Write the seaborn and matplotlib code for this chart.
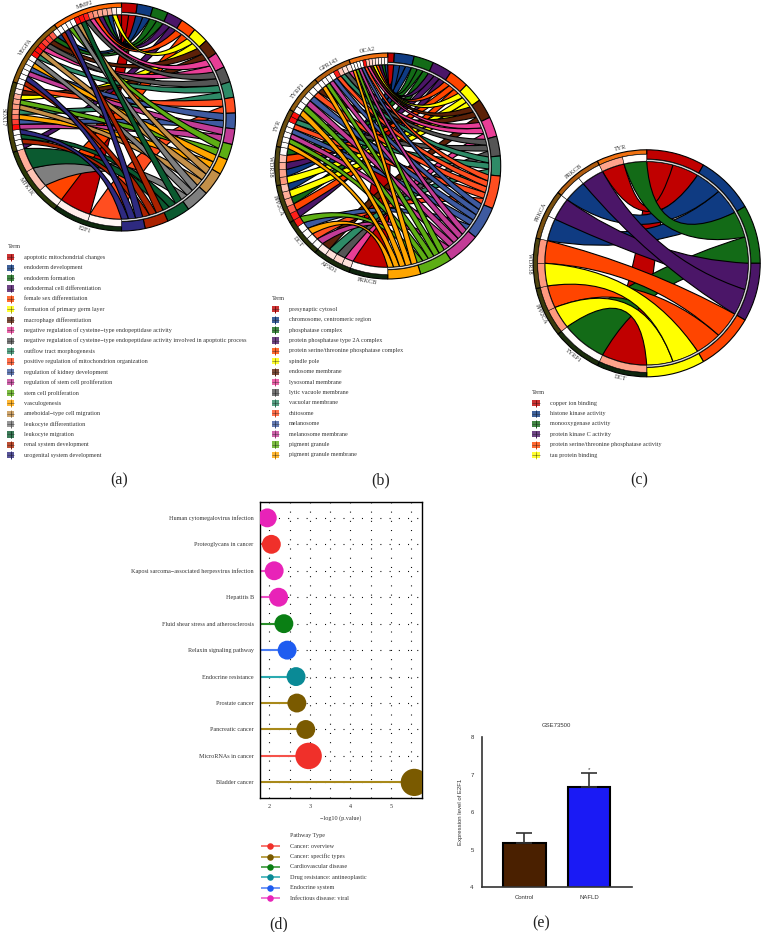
import numpy as np
import pandas as pd
import matplotlib
matplotlib.use("Agg")
import matplotlib.pyplot as plt
import seaborn as sns
from matplotlib.patches import Wedge, PathPatch, Rectangle
from matplotlib.path import Path
from matplotlib.colors import LinearSegmentedColormap

# ---------- data: chord (a) ----------
terms_a = ["apoptotic mitochondrial changes", "endoderm development", "endoderm formation",
           "endodermal cell differentiation", "female sex differentiation", "formation of primary germ layer",
           "macrophage differentiation", "negative regulation of cysteine\u2212type endopeptidase activity",
           "negative regulation of cysteine\u2212type endopeptidase activity involved in apoptotic process",
           "outflow tract morphogenesis", "positive regulation of mitochondrion organization",
           "regulation of kidney development", "regulation of stem cell proliferation", "stem cell proliferation",
           "vasculogenesis", "ameboidal\u2212type cell migration", "leukocyte differentiation", "leukocyte migration",
           "renal system development", "urogenital system development"]
colors_a = ["#C00000", "#0F3B82", "#136B17", "#4B1668", "#FF4500", "#FFFF00", "#5C2108", "#E83E96", "#555555",
            "#2E8B67", "#FF4E20", "#3E5AA0", "#C23C96", "#5DAE14", "#FFA500", "#C49049", "#7F7F7F", "#0B5A30",
            "#AA2200", "#2E2A80"]
genes_a = ["E2F1", "MTK1K", "SOX17", "VEGFA", "MMP2"]
gene_cols_a = ["#0E2A0E", "#2B3A08", "#474209", "#8B5A0A", "#FF6600"]
links_a = [[10, 0], [4, 16, 17],
           [3, 18, 17, 19, 12, 11, 14, 9, 15, 13, 5, 6, 10],
           [18, 19, 12, 11, 14, 16, 9, 15, 7, 8, 6, 2, 1],
           [18, 19, 13, 16, 15, 17, 8, 7, 4, 3, 2, 1, 5, 0]]
cells_a = [[0.04, 0.08], [0.05, 0.3, 0.4],
           [1, 1, 1, 1, .95, .8, .6, .5, .5, .45, .4, .1, .02],
           [1, 1, 1, 1, 1, 1, .95, .95, .9, .8, .8, .7, .02],
           [1, 1, 1, 1, .95, .95, .9, .6, .5, .45, .4, .35, .1, .02]]

# ---------- data: chord (b) ----------
terms_b = ["presynaptic cytosol", "chromosome, centromeric region", "phosphatase complex",
           "protein phosphatase type 2A complex", "protein serine/threonine phosphatase complex", "spindle pole",
           "endosome membrane", "lysosomal membrane", "lytic vacuole membrane", "vacuolar membrane", "chitosome",
           "melanosome", "melanosome membrane", "pigment granule", "pigment granule membrane"]
colors_b = colors_a[:10] + ["#FF4E20", "#3E5AA0", "#C23C96", "#5DAE14", "#FFA500"]
genes_b = ["PRKCB", "AP3D1", "DCT", "PPP2CA", "WDR38", "TYR", "TYRP1", "GPR143", "OCA2"]
gene_cols_b = ["#0E260E", "#1A2C0C", "#2A3408", "#3E3D0C", "#4F4510", "#6B4E10", "#8F5B10", "#B86010", "#F07010"]
links_b = [[0], [7, 8, 9, 6], [12, 10, 14, 11, 13], [3, 4, 2, 5, 1], [5, 1, 3, 4, 2],
           [14, 13, 12, 11, 10, 9, 8], [14, 13, 12, 11, 10, 6],
           [14, 13, 12, 11, 10, 9, 8, 7],
           [14, 13, 12, 11, 10, 7, 6, 5, 4, 3, 2, 1]]
cells_b = [[0.02], [.15, .2, .15, .1], [1, 1, 1, 1, .9], [.9, .7, .45, .4, .3], [.5, .45, .4, .3, .02],
           [1, 1, 1, 1, 1, .95, .95], [1, 1, 1, 1, 1, .02],
           [1, 1, 1, 1, .9, .3, .15, .1], [1, 1, 1, 1, .95, .3, .2, .15, .1, .08, .05, .02]]

# ---------- data: chord (c) ----------
terms_c = ["copper ion binding", "histone kinase activity", "monooxygenase activity", "protein kinase C activity",
           "protein serine/threonine phosphatase activity", "tau protein binding"]
colors_c = colors_a[:6]
genes_c = ["DCT", "TYRP1", "PPP2CA", "WDR38", "PRKCA", "PRKCB", "TYR"]
gene_cols_c = ["#0E260E", "#1C2E0C", "#3A3B0C", "#4F4510", "#7A5010", "#B05C10", "#F07010"]
links_c = [[0], [2], [5, 4], [5, 4], [1, 3], [1, 3], [0, 2]]
cells_c = [[.45], [.02], [.5, .5], [.5, .5], [1, 1], [1, 1], [.45, .02]]
term_slots_c = [[0, 6], [5, 4], [6, 1], [4, 5], [3, 2], [3, 2]]

# ---------- data: lollipop (d) ----------
pathways = ["Human cytomegalovirus infection", "Proteoglycans in cancer",
            "Kaposi sarcoma\u2212associated herpesvirus infection", "Hepatitis B",
            "Fluid shear stress and atherosclerosis", "Relaxin signaling pathway", "Endocrine resistance",
            "Prostate cancer", "Pancreatic cancer", "MicroRNAs in cancer", "Bladder cancer"]
log_p = [1.95, 2.05, 2.12, 2.23, 2.36, 2.44, 2.66, 2.68, 2.90, 2.97, 5.58]
gene_count = [9, 9, 9, 9, 9, 9, 9, 9, 9, 13, 13.5]
path_type = ["Infectious disease: viral", "Cancer: overview", "Infectious disease: viral", "Infectious disease: viral",
             "Cardiovascular disease", "Endocrine system", "Drug resistance: antineoplastic",
             "Cancer: specific types", "Cancer: specific types", "Cancer: overview", "Cancer: specific types"]
type_names = ["Cancer: overview", "Cancer: specific types", "Cardiovascular disease",
              "Drug resistance: antineoplastic", "Endocrine system", "Infectious disease: viral"]
type_dots = ["#F0302A", "#7A5A00", "#0A7F14", "#0A8A96", "#1E5CF0", "#E823B8"]
type_lines = ["#F5524A", "#A8891A", "#2A8F2A", "#2AAAB0", "#4A7CF5", "#EE50C8"]

# ---------- data: bars (e) ----------
groups = ["Control", "NAFLD"]
expr = [5.17, 6.67]
expr_err = [0.27, 0.38]
bar_cols = ["#4A2000", "#1A1AF5"]

# ---------- setup ----------
sns.set_theme(style="white")
SERIF = ["Liberation Serif", "DejaVu Serif"]
SANS = ["Liberation Sans", "DejaVu Sans"]
plt.rcParams["font.family"] = SERIF
W, H = 761, 932
TXT = "#333333"
FS = 4.4
fig = plt.figure(figsize=(W / 100, H / 100), dpi=100, facecolor="white")


def px_axes(x0, y0, x1, y1, **kw):
    return fig.add_axes([x0 / W, 1 - y1 / H, (x1 - x0) / W, (y1 - y0) / H], **kw)


cell_cmap = LinearSegmentedColormap.from_list("fc", ["#FFFFFF", "#FF9A80", "#FF0000"])


def pol(r, deg):
    a = np.deg2rad(deg)
    return np.array([r * np.cos(a), r * np.sin(a)])


def ribbon(a1, a2, b1, b2, r_g, r_t, k):
    pts, codes = [], []
    for i, t in enumerate(np.linspace(a1, a2, 12)):
        pts.append(pol(r_g, t)); codes.append(Path.MOVETO if i == 0 else Path.LINETO)
    c1 = k * (pol(r_g, a2) + pol(r_t, b1)) / 2
    pts += [c1, pol(r_t, b1)]; codes += [Path.CURVE3, Path.CURVE3]
    for t in np.linspace(b1, b2, 12)[1:]:
        pts.append(pol(r_t, t)); codes.append(Path.LINETO)
    c2 = k * (pol(r_g, a1) + pol(r_t, b2)) / 2
    pts += [c2, pol(r_g, a1), pol(r_g, a1)]; codes += [Path.CURVE3, Path.CURVE3, Path.CLOSEPOLY]
    return Path(pts, codes)


def chord(cx, cy, R, genes, gene_cols, links, cells, colors, term_slots=None, k=0.0):
    m = 1.12
    ax = px_axes(cx - R * m, cy - R * m, cx + R * m, cy + R * m)
    ax.set_xlim(-m, m); ax.set_ylim(-m, m); ax.axis("off")
    lw = 0.8
    n_g = len(genes)
    span = 180 / n_g
    counts = np.zeros(len(colors), int)
    for row in links:
        for t in row:
            counts[t] += 1
    unit = 180 / counts.sum()
    starts = 90 - np.concatenate([[0], np.cumsum(counts)[:-1]]) * unit
    for t, col in enumerate(colors):
        ax.add_patch(Wedge((0, 0), 1.0, starts[t] - counts[t] * unit, starts[t], width=0.083,
                           fc=col, ec="black", lw=lw, zorder=50))
    ax.add_patch(Wedge((0, 0), 0.915, -90, 90, width=0.018, fc="#D8D8D8", ec="black", lw=0.45, zorder=50))
    slots = {}
    for t in range(len(colors)):
        if term_slots is not None:
            order = term_slots[t]
        else:
            order = [g for g in range(n_g - 1, -1, -1) if t in links[g]]
        for j, g in enumerate(order):
            slots[(g, t)] = starts[t] - j * unit
    r_in = 0.897
    for g, row in enumerate(links):
        top = 270 - g * span
        ax.add_patch(Wedge((0, 0), 1.0, top - span, top, width=0.04, fc=gene_cols[g], ec="black", lw=lw, zorder=50))
        w = span / len(row)
        for j, t in enumerate(row):
            a1, a2 = top - j * w, top - (j + 1) * w
            ax.add_patch(Wedge((0, 0), 0.96, a2, a1, width=0.06, fc=cell_cmap(cells[g][j]), ec="black", lw=0.35,
                               zorder=50))
            b1 = slots[(g, t)]
            ax.add_patch(PathPatch(ribbon(a1, a2, b1, b1 - unit, r_in, r_in, k), fc=colors[t], ec="black", lw=lw,
                                   zorder=5 + t))
        mid = top - span / 2
        rot = mid - 90 if mid < 180 else mid - 270
        x, y = pol(1.037, mid)
        ax.text(x, y, genes[g], rotation=rot, ha="center", va="center", rotation_mode="anchor",
                fontsize=FS, color=TXT, clip_on=False, zorder=60)
    return ax


chord(121.5, 117, 114, genes_a, gene_cols_a, links_a, cells_a, colors_a, k=0.45)
chord(387.7, 166, 113, genes_b, gene_cols_b, links_b, cells_b, colors_b, k=0.45)
chord(646.7, 263.3, 113.5, genes_c, gene_cols_c, links_c, cells_c, colors_c, term_slots_c, k=0.15)

# ---------- (d) lollipop ----------
ax_d = px_axes(260, 502, 422, 798)
df = pd.DataFrame({"pathway": pathways, "logp": log_p, "size": gene_count, "type": path_type})
type_dot = dict(zip(type_names, type_dots))
type_line = dict(zip(type_names, type_lines))
ax_d.grid(True, axis="both", color="black", lw=0.8, ls=(0, (0.9, 7.4)))
ax_d.set_axisbelow(True)
ax_d.hlines(pathways, 1.77, log_p, colors=[type_line[t] for t in path_type], lw=1.5, zorder=2)
sns.scatterplot(data=df, x="logp", y="pathway", hue="type", palette=type_dot, size="size",
                sizes=(185, 385), linewidth=0, alpha=1, legend=False, ax=ax_d, zorder=3, clip_on=True)
ax_d.set_xlim(1.77, 5.77)
ax_d.set_ylim(10.59, -0.6)
ax_d.set_xticks([2, 3, 4, 5])
ax_d.set_xticks([2.5, 3.5, 4.5, 5.5], minor=True)
ax_d.grid(True, which="minor", axis="x", color="black", lw=0.8, ls=(0, (0.9, 7.4)))
ax_d.tick_params(axis="both", which="major", length=1.5, width=0.8, color="black", labelsize=FS,
                 labelcolor=TXT, pad=3)
ax_d.tick_params(axis="x", which="minor", length=0)
ax_d.set_xlabel("\u2212log10 (p.value)", fontsize=FS, color=TXT, labelpad=4)
ax_d.set_ylabel("")
for s in ax_d.spines.values():
    s.set_color("black"); s.set_linewidth(1.0)

# ---------- (e) bars ----------
ax_e = px_axes(481.7, 737.3, 632, 887)
df_e = pd.DataFrame({"group": groups, "expr": expr})
sns.barplot(data=df_e, x="group", y="expr", hue="group", palette=bar_cols, width=0.65, saturation=1,
            edgecolor="black", linewidth=1.5, legend=False, ax=ax_e)
ax_e.errorbar(groups, expr, yerr=[[0, 0], expr_err], fmt="none", ecolor="#333333", elinewidth=1.2,
              capsize=5.5, capthick=1.2, zorder=1)
ax_e.set_xlim(-0.66, 1.66)
ax_e.set_ylim(4, 8)
ax_e.set_yticks([4, 5, 6, 7, 8])
ax_e.set_xlabel("")
ax_e.set_ylabel("Expression level of E2F1", fontsize=4.3, color=TXT, family=SANS, labelpad=5)
ax_e.set_title("GSE73500", fontsize=4.3, color=TXT, family=SANS, pad=7.5)
ax_e.tick_params(axis="both", length=4.3, width=1.1, color="#333333", labelsize=4.3, labelcolor=TXT, pad=1.5)
for lab in ax_e.get_xticklabels() + ax_e.get_yticklabels():
    lab.set_family(SANS)
sns.despine(ax=ax_e)
for s in ("left", "bottom"):
    ax_e.spines[s].set_color("#333333"); ax_e.spines[s].set_linewidth(1.2)
ax_e.text(1, 7.07, "*", ha="center", va="bottom", fontsize=4.5, color=TXT, family=SANS)

# ---------- overlay: legends and panel letters ----------
ov = px_axes(0, 0, W, H, zorder=10)
ov.set_xlim(0, W); ov.set_ylim(H, 0); ov.axis("off"); ov.patch.set_alpha(0)


def term_legend(x_sw, x_txt, x_title, y_title, y0, dy, names, cols):
    ov.text(x_title, y_title, "Term", fontsize=FS, color=TXT, va="center")
    for i, (n, c) in enumerate(zip(names, cols)):
        y = y0 + i * dy
        ov.add_patch(Rectangle((x_sw - 3.8, y - 3.1), 7.6, 6.2, fc=c, ec="none", alpha=0.8))
        ov.plot([x_sw, x_sw], [y - 3.8, y + 3.8], color=c, lw=0.7, solid_capstyle="butt")
        ov.plot([x_sw, x_sw], [y - 3.1, y + 3.1], color="#222222", lw=0.4, alpha=0.7)
        ov.plot([x_sw - 3.8, x_sw + 3.8], [y, y], color="#222222", lw=0.4, alpha=0.7)
        ov.text(x_txt, y, n, fontsize=FS, color=TXT, va="center")


term_legend(10.5, 24, 8, 247, 257.3, 10.42, terms_a, colors_a)
term_legend(275.3, 289, 272, 299, 309.3, 10.4, terms_b, colors_b)
term_legend(535.7, 550, 532, 392.7, 403.3, 10.35, terms_c, colors_c)

ov.text(290, 836, "Pathway Type", fontsize=FS, color=TXT, va="center")
for i, (n, d, l) in enumerate(zip(type_names, type_dots, type_lines)):
    y = 846.2 + i * 10.4
    ov.plot([261, 280], [y, y], color=l, lw=1.1, solid_capstyle="butt")
    ov.plot([270.4], [y], "o", color=d, ms=4.7, mew=0)
    ov.text(290, y, n, fontsize=FS, color=TXT, va="center")

for lab, x, y in [("(a)", 119, 480), ("(b)", 380.7, 480), ("(c)", 639, 480), ("(d)", 279, 924), ("(e)", 540.7, 923)]:
    ov.text(x, y, lab, fontsize=11.5, color="#222222", ha="center", va="center")

fig.savefig("out.png", dpi=100, facecolor="white")
